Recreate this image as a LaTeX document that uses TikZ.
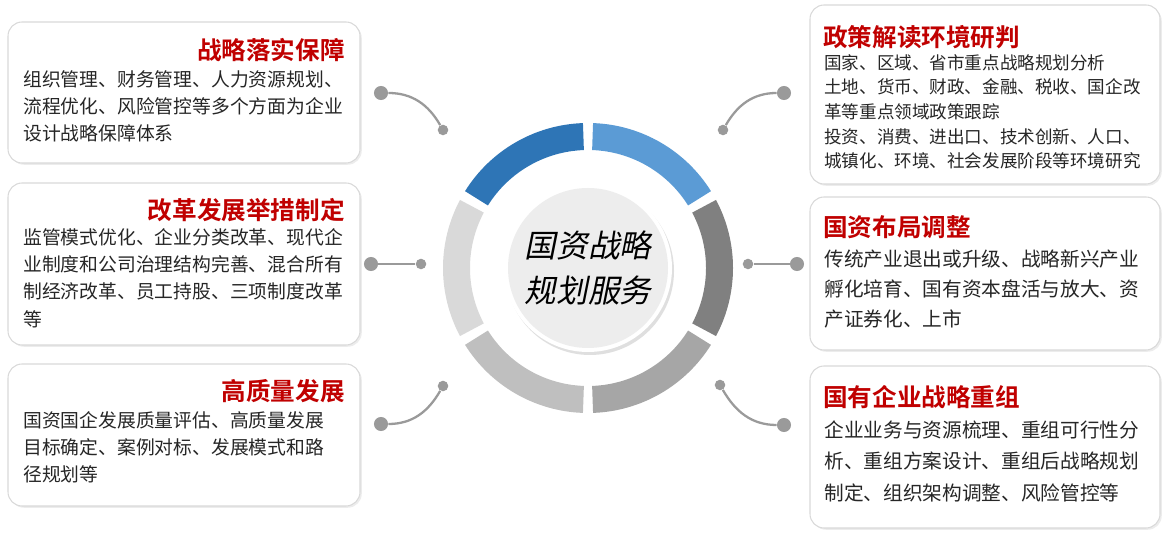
\documentclass[tikz,border=0pt]{standalone}
\usepackage{fontspec}
\setmainfont{Noto Sans CJK SC}
\newfontfamily\cjkbold{Noto Sans CJK SC Bold}
\newfontfamily\cjkslant[FakeSlant=0.2]{Noto Sans CJK SC}
\usetikzlibrary{positioning,shadows}
\definecolor{titlered}{HTML}{C00000}
\definecolor{segA}{HTML}{2E75B6}
\definecolor{segB}{HTML}{5B9BD5}
\definecolor{segC}{HTML}{808080}
\definecolor{segD}{HTML}{A6A6A6}
\definecolor{segE}{HTML}{BFBFBF}
\definecolor{segF}{HTML}{D9D9D9}
\definecolor{linkgray}{HTML}{9A9A9A}
\tikzset{
    card/.style = {draw=black!15, fill=white, rounded corners=8pt, line width=0.6pt,
        drop shadow={shadow xshift=1pt, shadow yshift=-1pt, opacity=0.15}},
    cardtitle/.style = {font=\cjkbold\fontsize{14}{16}\selectfont, text=titlered, inner sep=0pt},
    cardtext/.style = {font=\fontsize{10.7}{15.5}\selectfont, align=left, inner sep=0pt, text=black!85},
    dot/.style = {circle, fill=linkgray, inner sep=0pt, minimum size=8pt},
    link/.style = {draw=linkgray, line width=1.3pt}
}
\newcommand{\segment}[3]{% start angle, end angle, colour
    \fill[#3] ($(c)+(#1:145)$) arc[start angle=#1, end angle=#2, radius=145]
        -- ($(c)+(#2:118)$) arc[start angle=#2, end angle=#1, radius=118] -- cycle;}
\usetikzlibrary{calc}
\begin{document}
\begin{tikzpicture}[x=0.02cm, y=0.02cm]
    \useasboundingbox (0,0) rectangle (1169,537);
    \coordinate (c) at (588,269);
    % ring
    \segment{92}{148}{segA}
    \segment{32}{88}{segB}
    \segment{-28}{28}{segC}
    \segment{-88}{-32}{segD}
    \segment{-148}{-92}{segE}
    \segment{152}{208}{segF}
    \fill[black!25, opacity=0.5] ($(c)+(2,-3)$) circle (84);
    \fill[white] (c) circle (84);
    \fill[black!7] (c) circle (80);
    \node[font=\cjkslant\fontsize{18}{26}\selectfont, align=center] (core) at (c) {国资战略\\规划服务};
    % cards
    \draw[card] (8,515) rectangle (360,374);
    \draw[card] (8,354) rectangle (360,192);
    \draw[card] (8,173) rectangle (360,31);
    \draw[card] (810,532) rectangle (1160,353);
    \draw[card] (810,340) rectangle (1160,187);
    \draw[card] (810,171) rectangle (1160,9);
    \node[cardtitle, anchor=east] (t1) at (345,487) {战略落实保障};
    \node[cardtitle, anchor=east] (t2) at (345,327) {改革发展举措制定};
    \node[cardtitle, anchor=east] (t3) at (345,146) {高质量发展};
    \node[cardtitle, anchor=west] (t4) at (823,500) {政策解读环境研判};
    \node[cardtitle, anchor=west] (t5) at (823,310) {国资布局调整};
    \node[cardtitle, anchor=west] (t6) at (823,140) {国有企业战略重组};
    \node[cardtext, anchor=north west] (b1) at (23,467)
        {组织管理、财务管理、人力资源规划、\\流程优化、风险管控等多个方面为企业\\设计战略保障体系};
    \node[cardtext, anchor=north west] (b2) at (23,309)
        {监管模式优化、企业分类改革、现代企\\业制度和公司治理结构完善、混合所有\\制经济改革、员工持股、三项制度改革\\等};
    \node[cardtext, anchor=north west] (b3) at (23,126)
        {国资国企发展质量评估、高质量发展\\目标确定、案例对标、发展模式和路\\径规划等};
    \node[cardtext, anchor=north west, font=\fontsize{10}{14}\selectfont] (b4) at (824,483)
        {国家、区域、省市重点战略规划分析\\土地、货币、财政、金融、税收、国企改\\革等重点领域政策跟踪\\投资、消费、进出口、技术创新、人口、\\城镇化、环境、社会发展阶段等环境研究};
    \node[cardtext, anchor=north west, font=\fontsize{11.2}{17}\selectfont] (b5) at (824,287)
        {传统产业退出或升级、战略新兴产业\\孵化培育、国有资本盘活与放大、资\\产证券化、上市};
    \node[cardtext, anchor=north west, font=\fontsize{11.2}{18}\selectfont] (b6) at (824,117)
        {企业业务与资源梳理、重组可行性分\\析、重组方案设计、重组后战略规划\\制定、组织架构调整、风险管控等};
    % connectors
    \node[dot] (l1a) at (381,444) {};
    \node[dot, minimum size=6pt] (l1b) at (443,407) {};
    \node[dot] (l2a) at (371,273) {};
    \node[dot, minimum size=6pt] (l2b) at (421,273) {};
    \node[dot] (l3a) at (381,113) {};
    \node[dot, minimum size=6pt] (l3b) at (443,151) {};
    \node[dot] (r1a) at (784,444) {};
    \node[dot, minimum size=6pt] (r1b) at (723,407) {};
    \node[dot] (r2a) at (797,273) {};
    \node[dot, minimum size=6pt] (r2b) at (748,273) {};
    \node[dot] (r3a) at (784,112) {};
    \node[dot, minimum size=6pt] (r3b) at (720,152) {};
    \draw[link] (l1a) to[out=0, in=120] (l1b);
    \draw[link] (l2a) -- (l2b);
    \draw[link] (l3a) to[out=0, in=240] (l3b);
    \draw[link] (r1a) to[out=180, in=60] (r1b);
    \draw[link] (r2a) -- (r2b);
    \draw[link] (r3a) to[out=180, in=-60] (r3b);
\end{tikzpicture}
\end{document}
